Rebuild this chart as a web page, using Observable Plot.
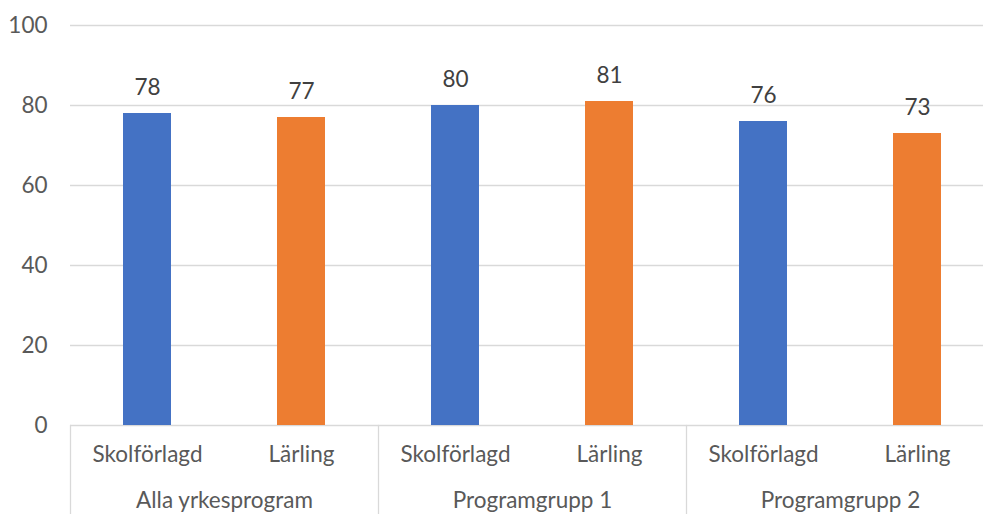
<!DOCTYPE html>
<html>
<head>
<meta charset="utf-8">
<script src="https://cdn.jsdelivr.net/npm/d3@7"></script>
<script src="https://cdn.jsdelivr.net/npm/@observablehq/plot@0.6"></script>
<style>
  html, body { margin: 0; padding: 0; background: #fff; overflow: hidden; }
  #chart svg { display: block; }
</style>
</head>
<body>
<div id="chart"></div>
<script>
const groups = ["Alla yrkesprogram", "Programgrupp 1", "Programgrupp 2"];
const categories = ["Skolförlagd", "Lärling"];
const skolforlagd = [78, 80, 76];
const larling = [77, 81, 73];
const yTicks = [0, 20, 40, 60, 80, 100];
const colors = ["#4472C4", "#ED7D31"];

const data = [];
groups.forEach((g, i) => {
  data.push({group: g, category: categories[0], value: skolforlagd[i]});
  data.push({group: g, category: categories[1], value: larling[i]});
});

const font = "Lato, 'Open Sans', sans-serif";

const chart = Plot.plot({
  width: 983,
  height: 514,
  marginTop: 25,
  marginBottom: 89,
  marginLeft: 69,
  marginRight: -11.5,
  style: {fontFamily: font, fontSize: "22.5px", color: "#595959", background: "#fff", overflow: "hidden"},
  fx: {domain: groups, padding: 0},
  x: {domain: categories, paddingInner: 0.689, paddingOuter: 0.3445},
  y: {domain: [0, 100]},
  color: {domain: categories, range: colors},
  marks: [
    Plot.gridY(yTicks, {stroke: "#d9d9d9", strokeOpacity: 1, strokeWidth: 1.3}),
    Plot.frame({anchor: "left", stroke: "#d9d9d9", strokeWidth: 1.3, insetTop: 400, insetBottom: -89}),
    Plot.barY(data, {fx: "group", x: "category", y: "value", fill: "category"}),
    Plot.text(data, {fx: "group", x: "category", y: "value", text: d => String(d.value), dy: -26, fill: "#404040", fontSize: 22.5}),
    Plot.axisY(yTicks, {tickSize: 0, tickPadding: 23, label: null, fill: "#595959"}),
    Plot.axisX({tickSize: 0, tickPadding: 21, label: null, fill: "#595959"}),
    Plot.axisFx({anchor: "bottom", tickSize: 0, tickPadding: 67, label: null, fill: "#595959"})
  ]
});
document.getElementById("chart").appendChild(chart);
</script>
</body>
</html>
